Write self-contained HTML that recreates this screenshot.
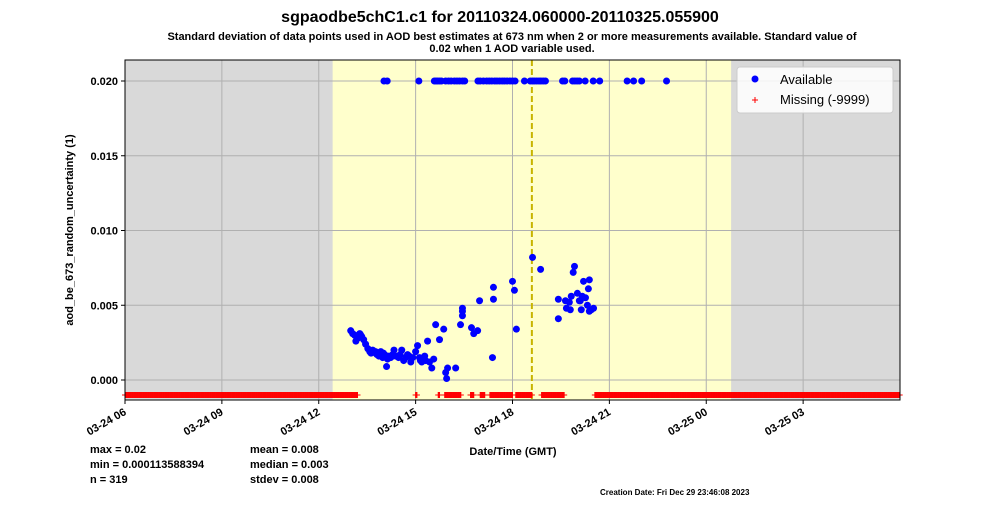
<!DOCTYPE html>
<html><head><meta charset="utf-8"><style>
body{margin:0;background:#fff;font-family:"Liberation Sans",sans-serif}
svg text{font-family:"Liberation Sans",sans-serif}
</style></head><body>
<svg id="chart" width="1000" height="500" xmlns="http://www.w3.org/2000/svg">
<text x="500" y="22" text-anchor="middle" font-size="16" font-weight="bold">sgpaodbe5chC1.c1 for 20110324.060000-20110325.055900</text>
<text x="512" y="40" text-anchor="middle" font-size="11" font-weight="bold">Standard deviation of data points used in AOD best estimates at 673 nm when 2 or more measurements available. Standard value of</text>
<text x="512" y="52" text-anchor="middle" font-size="11" font-weight="bold">0.02 when 1 AOD variable used.</text>
<g id="plot"></g>
<text transform="translate(73,230) rotate(-90)" text-anchor="middle" font-size="11" font-weight="bold">aod_be_673_random_uncertainty (1)</text>
<text x="513" y="455" text-anchor="middle" font-size="11" font-weight="bold">Date/Time (GMT)</text>
<g font-size="11" font-weight="bold">
<text x="90" y="453">max = 0.02</text><text x="90" y="468">min = 0.000113588394</text><text x="90" y="483">n = 319</text>
<text x="250" y="453">mean = 0.008</text><text x="250" y="468">median = 0.003</text><text x="250" y="483">stdev = 0.008</text>
</g>
<text x="600" y="495" font-size="8" font-weight="bold">Creation Date: Fri Dec 29 23:46:08 2023</text>
<g>
<rect x="737" y="67" width="156" height="46" rx="3" fill="#fff" fill-opacity="0.85" stroke="#ccc"/>
<circle cx="755" cy="79" r="3.5" fill="#0000ff"/><text x="780" y="84" font-size="13">Available</text>
<path d="M752 100 H758 M755 97 V103" stroke="#ff0000" stroke-width="1"/><text x="780" y="104" font-size="13">Missing (-9999)</text>
</g>
</svg>
<script>
const xTickLabels=["03-24 06","03-24 09","03-24 12","03-24 15","03-24 18","03-24 21","03-25 00","03-25 03"];
const xTickHours=[6,9,12,15,18,21,24,27];
const yTicks=[0,0.005,0.010,0.015,0.020];
const yTickLabels=["0.000","0.005","0.010","0.015","0.020"];
const availTimes=[12.99,13.05,13.11,13.21,13.27,13.33,13.39,13.45,13.52,13.58,13.67,13.76,13.86,13.92,13.98,14.04,14.10,14.17,14.23,14.29,14.38,14.47,14.57,14.63,14.69,14.75,14.85,14.91,15.00,15.06,15.12,15.19,15.25,15.31,15.37,15.43,15.50,15.56,15.62,15.74,15.87,15.93,15.96,15.99,16.24,16.39,16.45,16.45,16.45,16.73,16.80,16.92,16.98,17.38,17.41,17.41,18.00,18.06,18.12,18.62,18.87,19.42,19.42,19.67,19.76,19.82,19.88,19.92,20.01,20.07,20.13,20.20,20.26,20.32,20.35,20.38,20.44,20.51,19.64,19.79,20.10,20.16,20.38,13.15,13.30,13.62,13.80,14.00,14.13,14.33,14.52,14.80,15.15,15.28];
const availValues=[0.0033,0.0031,0.0030,0.0028,0.0031,0.0029,0.0027,0.0024,0.0021,0.0019,0.0020,0.0019,0.0016,0.0019,0.0015,0.0017,0.0009,0.0016,0.0015,0.0017,0.0016,0.0015,0.0020,0.0013,0.0015,0.0017,0.0012,0.0015,0.0019,0.0023,0.0015,0.0012,0.0015,0.0013,0.0026,0.0012,0.0008,0.0014,0.0037,0.0027,0.0034,0.0005,0.0001,0.0008,0.0008,0.0037,0.0046,0.0043,0.0048,0.0035,0.0031,0.0033,0.0053,0.0015,0.0062,0.0054,0.0066,0.0060,0.0034,0.0082,0.0074,0.0054,0.0041,0.0048,0.0052,0.0056,0.0072,0.0076,0.0058,0.0053,0.0047,0.0066,0.0055,0.0050,0.0061,0.0067,0.0047,0.0048,0.0053,0.0047,0.0053,0.0056,0.0046,0.0026,0.0030,0.0018,0.0017,0.0018,0.0014,0.0020,0.0017,0.0016,0.0013,0.0016];
const maxTimes=[14.02,14.12,15.10,15.58,15.63,15.68,15.74,15.80,15.93,16.02,16.10,16.20,16.28,16.36,16.45,16.52,16.93,17.00,17.10,17.20,17.28,17.36,17.45,17.52,17.60,17.68,17.75,17.83,17.92,18.00,18.08,18.37,18.55,18.62,18.68,18.75,18.82,18.88,18.95,19.02,19.55,19.62,19.86,19.93,20.00,20.07,20.25,20.50,20.70,21.55,21.75,22.00,22.77];
const missingRanges=[[6.0,13.2],[15.0,15.05],[15.7,15.75],[15.9,16.4],[16.7,16.8],[17.0,17.15],[17.3,18.0],[18.1,18.6],[18.9,19.6],[20.55,30.0]];
const X0=125,X1=900,Y0=60,Y1=400,H0=6,H1=30;
const xS=h=>X0+(h-H0)/(H1-H0)*(X1-X0);
const yS=v=>380-v/0.005*74.75;
const NS="http://www.w3.org/2000/svg";
const g=document.getElementById('plot');
function mk(t,a){const e=document.createElementNS(NS,t);for(const k in a)e.setAttribute(k,a[k]);g.appendChild(e);return e;}
let r=mk('rect',{x:X0,y:Y0,width:X1-X0,height:Y1-Y0,fill:'#d9d9d9'});


r=mk('rect',{x:xS(12.43),y:Y0,width:xS(24.77)-xS(12.43),height:Y1-Y0,fill:'#ffffcc'});


xTickHours.forEach((h,i)=>{
 let l=mk('line',{x1:xS(h),x2:xS(h),y1:Y0,y2:Y1,stroke:'#b0b0b0','stroke-width':1});
 
 
 mk('line',{x1:xS(h),x2:xS(h),y1:Y1,y2:Y1+4,stroke:'#000'});
 let t=mk('text',{x:xS(h)+2,y:Y1+14,'text-anchor':'end','font-size':11,'font-weight':'bold',transform:`rotate(-30 ${xS(h)+2} ${Y1+14})`});
 t.textContent=xTickLabels[i];
 
 
});
yTicks.forEach((v,i)=>{
 let l=mk('line',{x1:X0,x2:X1,y1:yS(v),y2:yS(v),stroke:'#b0b0b0','stroke-width':1});
 
 
 mk('line',{x1:X0-4,x2:X0,y1:yS(v),y2:yS(v),stroke:'#000'});
 let t=mk('text',{x:X0-7,y:yS(v)+4,'text-anchor':'end','font-size':11,'font-weight':'bold'});
 t.textContent=yTickLabels[i];
 
 
});
let dl=mk('line',{x1:xS(18.6),x2:xS(18.6),y1:Y0,y2:Y1,stroke:'#c8b400','stroke-width':2,'stroke-dasharray':'6,3'});


missingRanges.forEach(([a,b])=>{
 for(let h=a;h<=b+1e-9;h+=0.02){
  const x=xS(h);
  let p=mk('path',{d:`M${x-3} 395 H${x+3} M${x} 392 V398`,stroke:'#ff0000','stroke-width':1});
  
  
 }
});
availTimes.forEach((h,i)=>{
 let c=mk('circle',{cx:xS(h),cy:yS(availValues[i]),r:3.5,fill:'#0000ff'});
 
 
});
maxTimes.forEach(h=>{
 let c=mk('circle',{cx:xS(h),cy:yS(0.02),r:3.5,fill:'#0000ff'});
 
 
});
let fr=mk('rect',{x:X0,y:Y0,width:X1-X0,height:Y1-Y0,fill:'none',stroke:'#000','stroke-width':1});


</script>
</body></html>
